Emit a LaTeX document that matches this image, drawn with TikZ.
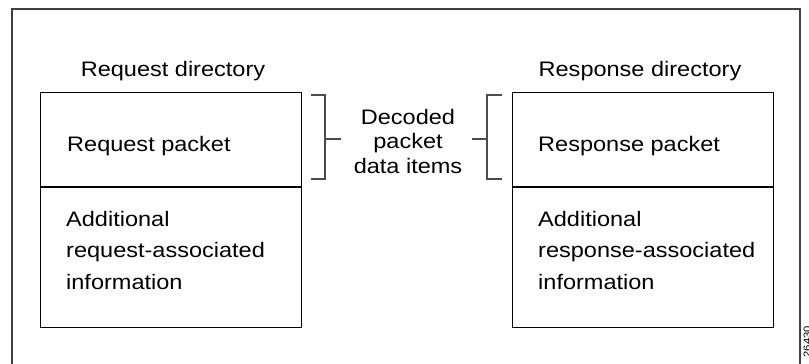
\documentclass[tikz,border=0pt]{standalone}
\usepackage{fontspec}
\setmainfont{Liberation Sans}[FakeStretch=1.12]
\begin{document}
\begin{tikzpicture}[x=1pt,y=-1pt,
  lbl/.style={font=\fontsize{21}{25}\selectfont, inner sep=0pt, anchor=base},
  boxtxt/.style={font=\fontsize{21}{31.5}\selectfont, inner sep=0pt, align=left, anchor=north west},
  dirbox/.style={draw, line width=1.2pt, minimum width=261pt, minimum height=235pt, inner sep=0pt, anchor=north west},
  brk/.style={draw=black!70, line width=1.1pt},
  frame/.style={draw=black!75, line width=1.1pt}]
\useasboundingbox (0,0) rectangle (809,364);
\draw[frame] (12,375) |- (800,9) -- (800,375);
% boxes
\node[dirbox] (lbox) at (40,92) {};
\node[dirbox] (rbox) at (512,92) {};
\coordinate (ldl) at (40,187); \coordinate (ldr) at (301,187);
\coordinate (rdl) at (512,187); \coordinate (rdr) at (773,187);
\draw[line width=1.2pt] (ldl) -- (ldr);
\draw[line width=1.2pt] (rdl) -- (rdr);
% titles
\node[lbl] (lt) at (173,76) {Request directory};
\node[lbl] (rt) at (640,76) {Response directory};
\node[lbl, anchor=base west] (lp) at (67,151) {Request packet};
\node[lbl, anchor=base west] (rp) at (538,151) {Response packet};
\node[boxtxt] (la) at (66,211) {Additional\\request-associated\\information};
\node[boxtxt] (ra) at (538,211) {Additional\\response-associated\\information};
% center
\node[font=\fontsize{21}{24.5}\selectfont, align=center, inner sep=0pt] (dc) at (408,141) {Decoded\\packet\\data items};
% brackets
\coordinate (b1t) at (311,95); \coordinate (b1b) at (311,179);
\coordinate (b1m) at (325,139); \coordinate (b1e) at (341,139);
\draw[brk] (b1t) -| (b1m) |- (b1b);
\draw[brk] (b1m) -- (b1e);
\coordinate (b2t) at (502,95); \coordinate (b2b) at (502,179);
\coordinate (b2m) at (487,139); \coordinate (b2e) at (472,139);
\draw[brk] (b2t) -| (b2m) |- (b2b);
\draw[brk] (b2m) -- (b2e);
% figure number
\node[rotate=90, anchor=north east, inner sep=0pt, font=\fontsize{10}{10}\selectfont] (fn) at (803.5,326) {26430};
\end{tikzpicture}
\end{document}
